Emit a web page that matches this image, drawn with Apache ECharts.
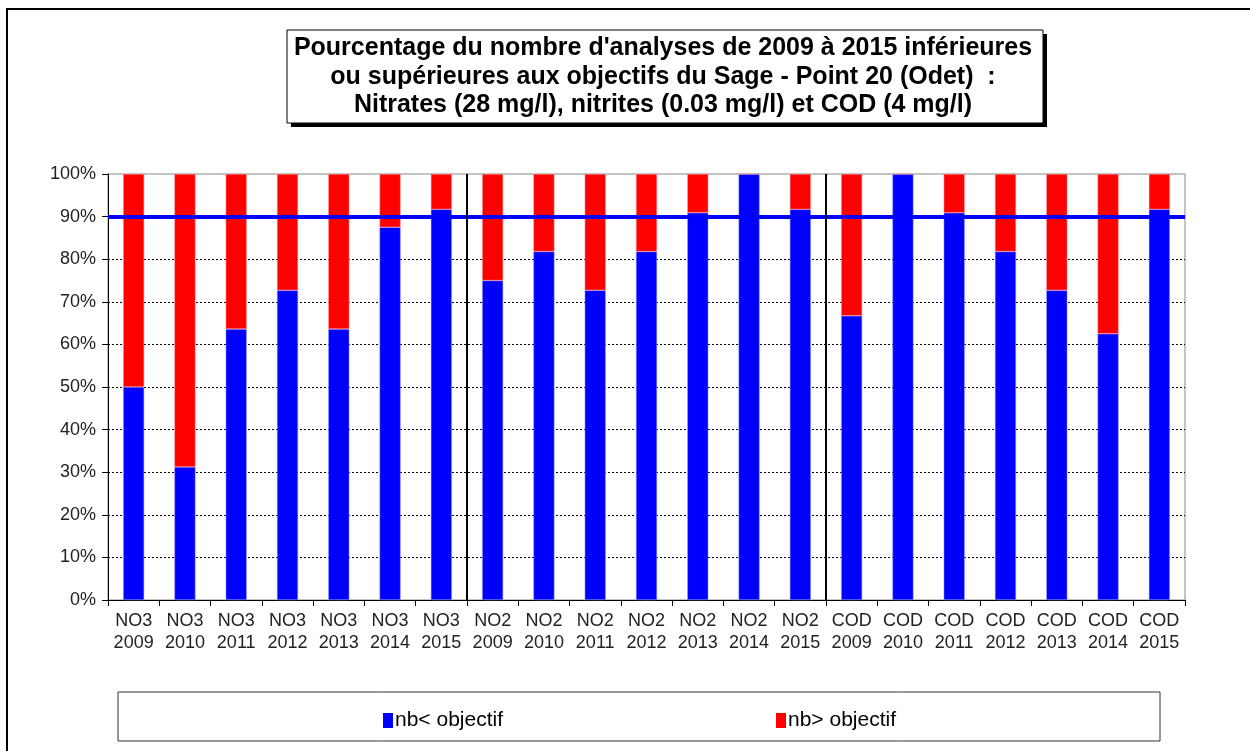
<!DOCTYPE html>
<html>
<head>
<meta charset="utf-8">
<script src="https://cdn.jsdelivr.net/npm/echarts@6/dist/echarts.min.js"></script>
<style>
  html, body { margin: 0; padding: 0; background: #fff; }
  #chart { width: 1250px; height: 751px; }
</style>
</head>
<body>
<div id="chart"></div>
<script>
// categories: parameter + year
var categories = [
  'NO3\n2009', 'NO3\n2010', 'NO3\n2011', 'NO3\n2012', 'NO3\n2013', 'NO3\n2014', 'NO3\n2015',
  'NO2\n2009', 'NO2\n2010', 'NO2\n2011', 'NO2\n2012', 'NO2\n2013', 'NO2\n2014', 'NO2\n2015',
  'COD\n2009', 'COD\n2010', 'COD\n2011', 'COD\n2012', 'COD\n2013', 'COD\n2014', 'COD\n2015'
]
// % of analyses below the objective
var belowObjective = [
  50, 31.25, 63.6, 72.7, 63.6, 87.5, 91.7,
  75, 81.8, 72.7, 81.8, 90.9, 100, 91.7,
  66.7, 100, 90.9, 81.8, 72.7, 62.5, 91.7
]
// % of analyses above the objective
var aboveObjective = [
  50, 68.75, 36.4, 27.3, 36.4, 12.5, 8.3,
  25, 18.2, 27.3, 18.2, 9.1, 0, 8.3,
  33.3, 0, 9.1, 18.2, 27.3, 37.5, 8.3
]
var objectiveLevel = 90
var groupBreaks = [7, 14]   // boundaries between NO3 / NO2 / COD
var seriesNames = ['nb< objectif', 'nb> objectif']

var font = 'Liberation Sans, Arial, sans-serif'

var myChart = echarts.init(document.getElementById('chart'))

var option = {
  animation: false,
  textStyle: { fontFamily: font },
  graphic: [
    // outer frame
    { type: 'rect', shape: { x: 7, y: 9, width: 1300, height: 800 },
      style: { fill: null, stroke: '#000', lineWidth: 2 }, silent: true },
    // title box with hard shadow
    { type: 'rect', shape: { x: 291, y: 34, width: 756, height: 93 },
      style: { fill: '#000' }, silent: true },
    { type: 'rect', shape: { x: 287, y: 30, width: 756, height: 93 },
      style: { fill: '#fff', stroke: '#000', lineWidth: 1 }, silent: true },
    { type: 'text', x: 663, y: 77,
      style: {
        text: "Pourcentage du nombre d'analyses de 2009 à 2015 inférieures\nou supérieures aux objectifs du Sage - Point 20 (Odet)  :\nNitrates (28 mg/l), nitrites (0.03 mg/l) et COD (4 mg/l)",
        font: 'bold 25px "Liberation Sans", Arial, sans-serif',
        fill: '#000', align: 'center', verticalAlign: 'middle', lineHeight: 28.5
      }, silent: true },
    // legend box
    { type: 'rect', shape: { x: 118, y: 692, width: 1042, height: 49 },
      style: { fill: '#fff', stroke: '#333', lineWidth: 1 }, silent: true, z: -1 }
  ],
  legend: {
    data: seriesNames,
    left: 378,
    top: 705,
    itemWidth: 10,
    itemHeight: 15,
    itemGap: 273,
    icon: 'rect',
    itemStyle: { borderWidth: 0 },
    textStyle: { fontSize: 21, color: '#000', padding: [0, 0, 0, -3] }
  },
  grid: {
    left: 108,
    right: 65,
    top: 174,
    bottom: 151,
    show: true,
    borderColor: '#888',
    borderWidth: 1
  },
  xAxis: [
    {
      type: 'category',
      data: categories,
      axisLine: { lineStyle: { color: '#000', width: 1 } },
      axisTick: { show: true, length: 6, lineStyle: { color: '#000' } },
      axisLabel: { fontSize: 18, color: '#222', lineHeight: 22, margin: 10, interval: 0 }
    },
    {
      type: 'value', min: 0, max: categories.length, show: false
    }
  ],
  yAxis: {
    type: 'value',
    min: 0,
    max: 100,
    interval: 10,
    axisLine: { show: true, lineStyle: { color: '#000' } },
    axisTick: { show: true, length: 6, lineStyle: { color: '#000' } },
    axisLabel: { fontSize: 18, color: '#222', margin: 12, formatter: '{value}%' },
    splitLine: { showMaxLine: false, lineStyle: { color: '#000', type: [2, 2], width: 1 } }
  },
  series: [
    {
      name: seriesNames[0],
      type: 'bar',
      stack: 'pct',
      data: belowObjective,
      barWidth: 21,
      itemStyle: { color: '#0000ff', borderColor: '#9a9aff', borderWidth: 0.5 },
      markLine: {
        silent: true,
        symbol: 'none',
        label: { show: false },
        lineStyle: { color: '#0000ff', width: 4, type: 'solid' },
        data: [{ yAxis: objectiveLevel }],
        z: 5
      }
    },
    {
      name: seriesNames[1],
      type: 'bar',
      stack: 'pct',
      data: aboveObjective,
      barWidth: 21,
      itemStyle: { color: '#ff0000', borderColor: '#ff9a9a', borderWidth: 0.5 }
    },
    {
      // group separators, on a hidden value axis spanning the categories
      type: 'line',
      xAxisIndex: 1,
      data: [],
      markLine: {
        silent: true,
        symbol: 'none',
        label: { show: false },
        lineStyle: { color: '#000', width: 2, type: 'solid' },
        data: groupBreaks.map(function (b) { return { xAxis: b } })
      }
    }
  ]
}

myChart.setOption(option)
</script>
</body>
</html>
